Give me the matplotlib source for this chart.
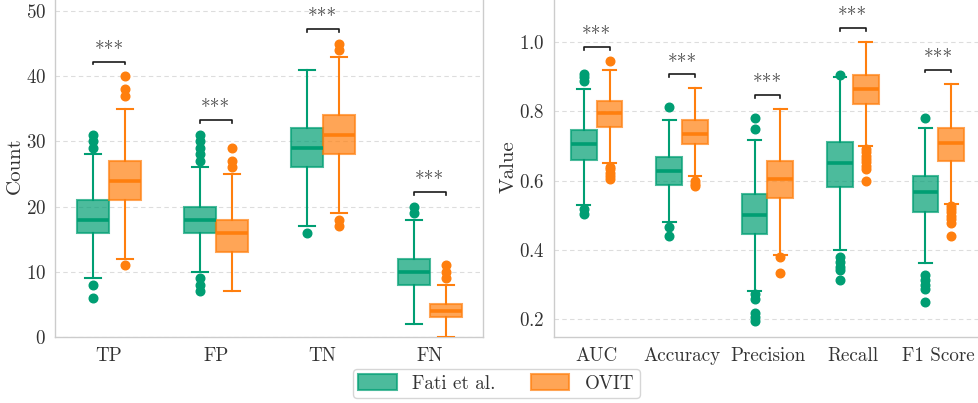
import matplotlib
matplotlib.use("Agg")
import matplotlib.pyplot as plt
from matplotlib.patches import Patch

plt.rcParams["font.family"] = ["cmr10", "DejaVu Serif"]
plt.rcParams["axes.formatter.use_mathtext"] = True
plt.rcParams["mathtext.fontset"] = "cm"

# ---------------- data ----------------
groups = ["Fati et al.", "OVIT"]
group_colors = ["#009E73", "#FF7F0E"]

count_categories = ["TP", "FP", "TN", "FN"]
fati_counts_whislo = [9, 10, 17, 2]
fati_counts_q1 = [16, 16, 26, 8]
fati_counts_med = [18, 18, 29, 10]
fati_counts_q3 = [21, 20, 32, 12]
fati_counts_whishi = [28, 26, 41, 18]
fati_counts_fliers = [[6, 8, 29, 30, 31], [7, 8, 9, 27, 28, 29, 30, 31], [16], [19, 20]]

ovit_counts_whislo = [12, 7, 19, 0]
ovit_counts_q1 = [21, 13, 28, 3]
ovit_counts_med = [24, 16, 31, 4]
ovit_counts_q3 = [27, 18, 34, 5]
ovit_counts_whishi = [35, 25, 43, 8]
ovit_counts_fliers = [[11, 37, 38, 40], [26, 27, 29], [17, 18, 44, 45], [9, 10, 11]]

metric_categories = ["AUC", "Accuracy", "Precision", "Recall", "F1 Score"]
fati_metric_whislo = [0.529, 0.479, 0.281, 0.400, 0.361]
fati_metric_q1 = [0.658, 0.586, 0.446, 0.581, 0.509]
fati_metric_med = [0.705, 0.627, 0.500, 0.650, 0.566]
fati_metric_q3 = [0.746, 0.668, 0.560, 0.711, 0.614]
fati_metric_whishi = [0.864, 0.774, 0.717, 0.900, 0.751]
fati_metric_fliers = [[0.503, 0.518, 0.888, 0.898, 0.908],
                      [0.440, 0.467, 0.813],
                      [0.193, 0.205, 0.218, 0.258, 0.272, 0.750, 0.781],
                      [0.313, 0.342, 0.351, 0.366, 0.380, 0.906],
                      [0.248, 0.286, 0.298, 0.313, 0.327, 0.781]]

ovit_metric_whislo = [0.651, 0.614, 0.385, 0.700, 0.532]
ovit_metric_q1 = [0.755, 0.705, 0.549, 0.821, 0.657]
ovit_metric_med = [0.796, 0.733, 0.603, 0.863, 0.707]
ovit_metric_q3 = [0.830, 0.774, 0.657, 0.905, 0.751]
ovit_metric_whishi = [0.919, 0.866, 0.807, 1.000, 0.880]
ovit_metric_fliers = [[0.603, 0.612, 0.622, 0.632, 0.640, 0.946],
                      [0.583, 0.590, 0.598],
                      [0.333, 0.380],
                      [0.600, 0.632, 0.642, 0.652, 0.662, 0.672, 0.682, 0.692],
                      [0.440, 0.478, 0.488, 0.498, 0.508, 0.518, 0.526]]

significance = "***"
count_yticks = [0, 10, 20, 30, 40, 50]
metric_yticks = [0.2, 0.4, 0.6, 0.8, 1.0]

# ---------------- figure ----------------
W, H = 979, 403
fig = plt.figure(figsize=(W / 100, H / 100), dpi=100)

ax1 = fig.add_axes([55.5 / W, 1 - 337 / H, (483 - 55.5) / W, 342.3 / H])
ax2 = fig.add_axes([554 / W, 1 - 337 / H, (981 - 554) / W, 340.0 / H])

TEXT = "0.2"
SPINE = "#cccccc"
TICK_FS = 13.7


def make_stats(whislo, q1, med, q3, whishi, fliers):
    return [dict(whislo=a, q1=b, med=c, q3=d, whishi=e, fliers=f)
            for a, b, c, d, e, f in zip(whislo, q1, med, q3, whishi, fliers)]


def draw_panel(ax, cats, series, ylabel, yticks, ylim):
    n = len(cats)
    width = 0.3
    offsets = [-0.15, 0.15]
    all_vals = []
    for stats, color, off in zip(series, group_colors, offsets):
        pos = [i + off for i in range(n)]
        bp = ax.bxp(stats, positions=pos, widths=width, patch_artist=True,
                    showfliers=True, capwidths=width * 0.5,
                    boxprops=dict(facecolor=color, edgecolor=color, linewidth=1.5),
                    whiskerprops=dict(color=color, linewidth=1.5),
                    capprops=dict(color=color, linewidth=1.5),
                    medianprops=dict(color=color, linewidth=2.6),
                    flierprops=dict(marker="o", markerfacecolor=color,
                                    markeredgecolor=color, markersize=6.2),
                    manage_ticks=False, zorder=3)
        for b in bp["boxes"]:
            b.set_alpha(0.7)
        for s in stats:
            all_vals += [s["whislo"], s["whishi"]] + list(s["fliers"])
    vmin, vmax = min(all_vals), max(all_vals)
    rng = vmax - vmin
    for i in range(n):
        vals = []
        for stats in series:
            s = stats[i]
            vals += [s["whishi"]] + list(s["fliers"])
        y = max(vals) + 0.05 * rng
        h = 0.01 * rng
        x1, x2 = i + offsets[0], i + offsets[1]
        ax.plot([x1, x1, x2, x2], [y - h, y, y, y - h], color="0.1",
                linewidth=1.2, zorder=4)
        ax.text(i, y + 0.006 * rng, significance, ha="center", va="bottom",
                fontsize=14, color="0.3")

    ax.set_xlim(-0.5, n - 0.5)
    ax.set_ylim(*ylim)
    ax.set_xticks(range(n))
    ax.set_xticklabels(cats)
    ax.set_yticks(yticks)
    ax.set_ylabel(ylabel, fontsize=15, color=TEXT, labelpad=1)
    ax.tick_params(axis="both", length=0, labelsize=TICK_FS, colors=TEXT)
    ax.tick_params(axis="y", pad=7)
    ax.tick_params(axis="x", pad=7)
    ax.grid(axis="y", linestyle=(0, (4, 3)), color="#dddddd", linewidth=0.8)
    ax.set_axisbelow(True)
    for sp in ax.spines.values():
        sp.set_color(SPINE)
        sp.set_linewidth(1.0)
    ax.spines["top"].set_visible(False)


count_series = [
    make_stats(fati_counts_whislo, fati_counts_q1, fati_counts_med,
               fati_counts_q3, fati_counts_whishi, fati_counts_fliers),
    make_stats(ovit_counts_whislo, ovit_counts_q1, ovit_counts_med,
               ovit_counts_q3, ovit_counts_whishi, ovit_counts_fliers),
]
metric_series = [
    make_stats(fati_metric_whislo, fati_metric_q1, fati_metric_med,
               fati_metric_q3, fati_metric_whishi, fati_metric_fliers),
    make_stats(ovit_metric_whislo, ovit_metric_q1, ovit_metric_med,
               ovit_metric_q3, ovit_metric_whishi, ovit_metric_fliers),
]

draw_panel(ax1, count_categories, count_series, "Count", count_yticks, (0, 52.5))
draw_panel(ax2, metric_categories, metric_series, "Value", metric_yticks, (0.148, 1.13))

handles = [Patch(facecolor=c, edgecolor=c, alpha=0.7, linewidth=1.5) for c in group_colors]
leg = fig.legend(handles, groups, loc="center", bbox_to_anchor=(0.507, 0.0484),
                 ncol=2, fontsize=TICK_FS, frameon=True, fancybox=True,
                 edgecolor="#cccccc", handlelength=2.0, handleheight=0.85,
                 columnspacing=1.9, borderpad=0.3, handletextpad=0.8)
for t in leg.get_texts():
    t.set_color(TEXT)

fig.savefig("out.png", dpi=100)
